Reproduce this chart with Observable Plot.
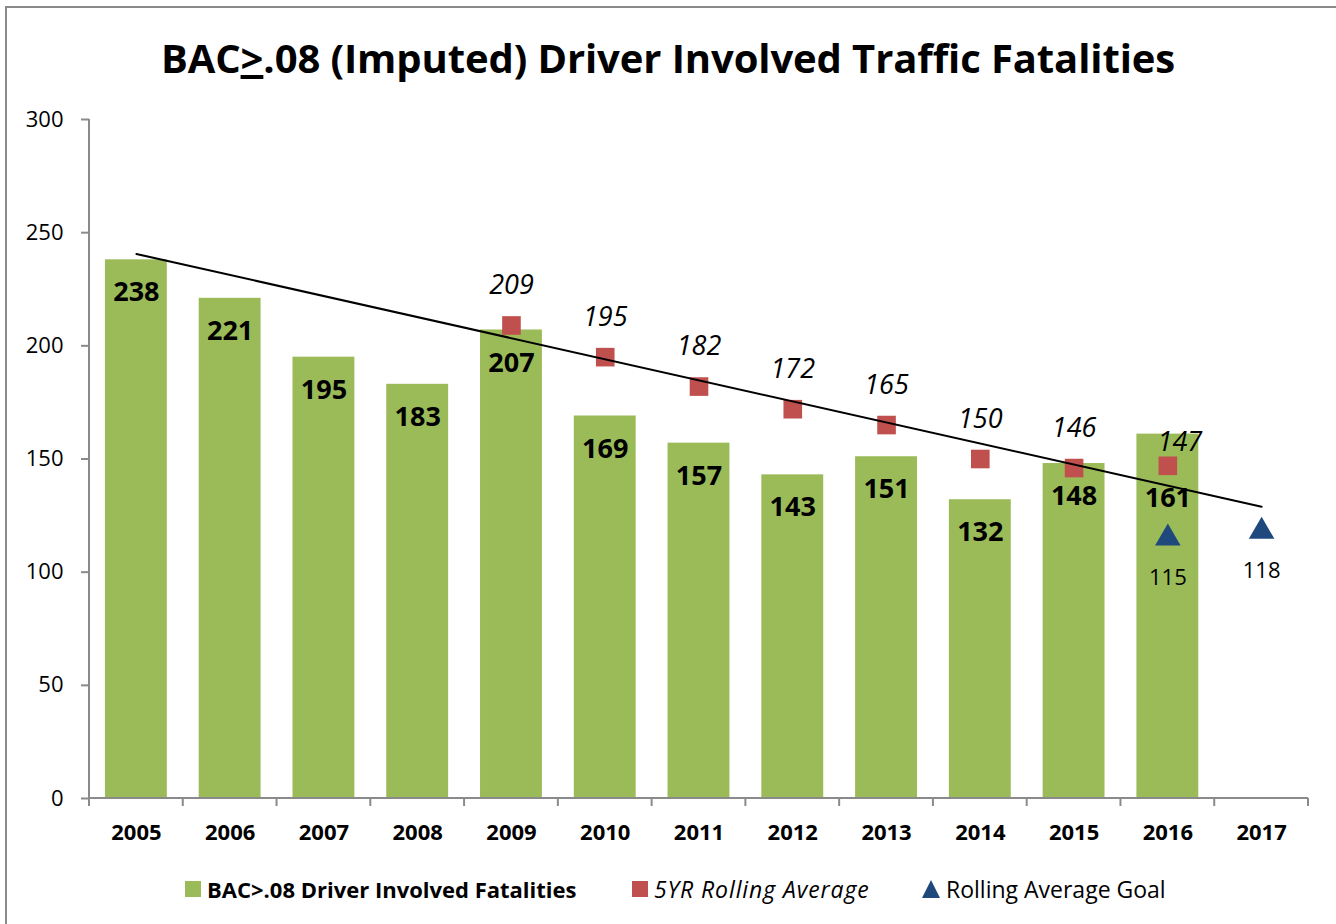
<!DOCTYPE html>
<html><head><meta charset="utf-8">
<script src="https://cdn.jsdelivr.net/npm/d3@7"></script>
<script src="https://cdn.jsdelivr.net/npm/@observablehq/plot@0.6"></script>
<style>
body{margin:0;background:#fff;font-family:"Open Sans",sans-serif;overflow:hidden;}
#wrap{position:relative;width:1336px;height:924px;overflow:hidden;}
#frame{position:absolute;left:5px;top:6px;width:1400px;height:1000px;border-left:2px solid #8a8a8a;border-top:2px solid #8a8a8a;}
#title{position:absolute;top:0;left:0;width:1336px;height:100px;line-height:116px;text-align:center;font-size:40px;font-weight:700;color:#000;white-space:nowrap;letter-spacing:-0.1px;}
#chart{position:absolute;top:100px;left:0;}
.lg{position:absolute;top:876px;height:26px;line-height:26px;font-size:22px;color:#000;white-space:nowrap;display:flex;align-items:center;}
.sw{display:inline-block;width:16px;height:16px;margin-right:6px;}
.tri{display:inline-block;width:0;height:0;border-left:9px solid transparent;border-right:9px solid transparent;border-bottom:18px solid #1F497D;margin-right:6px;}
</style></head>
<body>
<div id="wrap">
<div id="frame"></div>
<div id="title">BAC<span style="text-decoration:underline">&gt;</span>.08 (Imputed) Driver Involved Traffic Fatalities</div>
<div id="chart"></div>
<div class="lg" style="left:185px;font-weight:700;"><span class="sw" style="background:#9BBB59"></span>BAC&gt;.08 Driver Involved Fatalities</div>
<div class="lg" style="left:632px;font-style:italic;font-size:23px;letter-spacing:0.9px;"><span class="sw" style="background:#C0504D"></span>5YR Rolling Average</div>
<div class="lg" style="left:922px;font-size:23px;"><span class="tri"></span>Rolling Average Goal</div>
</div>
<script>
const years = [2005, 2006, 2007, 2008, 2009, 2010, 2011, 2012, 2013, 2014, 2015, 2016, 2017];
const barYears = [2005, 2006, 2007, 2008, 2009, 2010, 2011, 2012, 2013, 2014, 2015, 2016];
const fatalities = [238, 221, 195, 183, 207, 169, 157, 143, 151, 132, 148, 161];
const avgYears = [2009, 2010, 2011, 2012, 2013, 2014, 2015, 2016];
const rollingAvg = [209, 195, 182, 172, 165, 150, 146, 147];
const goalYears = [2016, 2017];
const goalValues = [115, 118];
const trendYears = [2005, 2017];
const trendValues = [240.6, 128.9];
const yTicks = [0, 50, 100, 150, 200, 250, 300];

const bars = barYears.map((y, i) => ({year: y, value: fatalities[i]}));
const avg = avgYears.map((y, i) => ({year: y, value: rollingAvg[i]}));
const goals = goalYears.map((y, i) => ({year: y, value: goalValues[i]}));
const trend = trendYears.map((y, i) => ({year: y, value: trendValues[i]}));

const axisColor = "#8a8a8a";

function axisLines(index, scales, values, dims) {
  const x = scales.x;
  const g = d3.create("svg:g").attr("stroke", axisColor).attr("stroke-width", 2).attr("fill", "none");
  const left = dims.marginLeft, right = dims.width - dims.marginRight;
  const bottom = dims.height - dims.marginBottom, top = dims.marginTop;
  g.append("line").attr("x1", left).attr("x2", left).attr("y1", top).attr("y2", bottom);
  g.append("line").attr("x1", left).attr("x2", right).attr("y1", bottom).attr("y2", bottom);
  const step = x.step(), bw = x.bandwidth();
  const edges = years.map(yr => x(yr) - (step - bw) / 2);
  edges.push(x(years[years.length - 1]) + bw + (step - bw) / 2);
  for (const e of edges) {
    g.append("line").attr("x1", e).attr("x2", e).attr("y1", bottom).attr("y2", bottom + 8);
  }
  return g.node();
}

const chart = Plot.plot({
  width: 1336,
  height: 760,
  marginTop: 19,
  marginBottom: 62,
  marginLeft: 89,
  marginRight: 28,
  style: {fontFamily: "'Open Sans', sans-serif", background: "transparent", color: "#000"},
  x: {type: "band", domain: years, paddingInner: 0.34, paddingOuter: 0.17, round: false},
  y: {domain: [0, 300]},
  marks: [
    Plot.barY(bars, {x: "year", y: "value", fill: "#9BBB59"}),
    axisLines,
    Plot.axisY({ticks: yTicks, tickSize: 8, tickPadding: 18, fontSize: 22, stroke: axisColor, strokeWidth: 2, fill: "#000", label: null}),
    Plot.axisX({tickSize: 0, tickPadding: 26, fontSize: 22, fontWeight: "bold", fill: "#000", label: null, tickFormat: d => String(d)}),
    Plot.text(bars.filter(d => d.year !== 2016), {x: "year", y: "value", text: d => String(d.value), dy: 33, fontSize: 27, fontWeight: "bold", fill: "#000"}),
    Plot.text(bars.filter(d => d.year === 2016), {x: "year", y: "value", text: d => String(d.value), dy: 64, fontSize: 27, fontWeight: "bold", fill: "#000"}),
    Plot.dot(avg, {x: "year", y: "value", symbol: "square", r: 10.5, fill: "#C0504D", stroke: null}),
    Plot.line(trend, {x: "year", y: "value", stroke: "#000", strokeWidth: 2}),
    Plot.dot(goals, {x: "year", y: "value", symbol: "triangle", r: 9.5, fill: "#1F497D", stroke: null}),
    Plot.text(avg.filter(d => d.year !== 2016), {x: "year", y: "value", text: d => String(d.value), dy: -40, fontSize: 27, fontStyle: "italic", fill: "#000"}),
    Plot.text(avg.filter(d => d.year === 2016), {x: "year", y: "value", text: d => String(d.value), dx: 12, dy: -23, fontSize: 27, fontStyle: "italic", fill: "#000"}),
    Plot.text(goals, {x: "year", y: "value", text: d => String(d.value), dy: 40, fontSize: 22, fill: "#000"})
  ]
});
document.getElementById("chart").appendChild(chart);
</script>
</body></html>
